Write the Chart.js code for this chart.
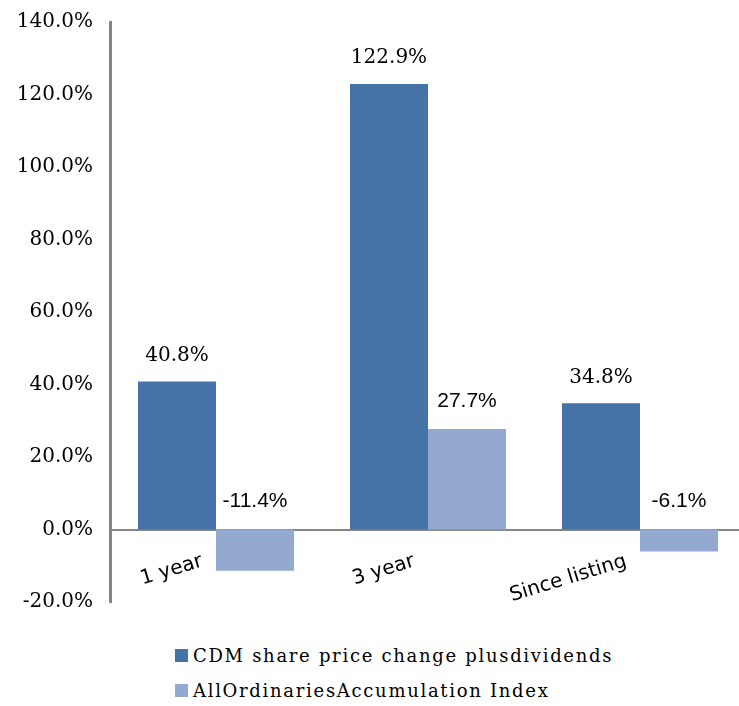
<!DOCTYPE html>
<html>
<head>
<meta charset="utf-8">
<script src="https://cdn.jsdelivr.net/npm/chart.js@4.4.0/dist/chart.umd.min.js"></script>
<style>
  html, body { margin: 0; padding: 0; background: #fff; overflow: hidden; }
  #wrap { position: relative; width: 739px; height: 706px; overflow: hidden; }
  #chart { position: absolute; left: 0; top: 0; }
  #legend { position: absolute; left: 175px; top: 638px; font-family: "DejaVu Serif", serif; font-size: 18px; color: #000; }
  .item { display: flex; align-items: center; height: 35px; letter-spacing: 1.7px; }
  .box { width: 13px; height: 13px; margin-right: 5px; }
</style>
</head>
<body>
<div id="wrap">
  <canvas id="chart" width="746" height="625"></canvas>
  <div id="legend"></div>
</div>
<script>
const categories = ["1 year", "3 year", "Since listing"];
const cdmValues = [40.8, 122.9, 34.8];
const allOrdsValues = [-11.4, 27.7, -6.1];
const seriesNames = ["CDM share price change plusdividends", "AllOrdinariesAccumulation Index"];
const seriesColors = ["#4572A7", "#93A9CF"];

// value labels above each bar (above zero line for negatives)
const valueLabels = {
    id: "valueLabels",
    afterDatasetsDraw(chart) {
        const ctx = chart.ctx;
        const yScale = chart.scales.y;
        chart.data.datasets.forEach((ds, di) => {
            const meta = chart.getDatasetMeta(di);
            ctx.save();
            ctx.font = ds.labelFont;
            ctx.fillStyle = "#000";
            ctx.textAlign = "center";
            ctx.textBaseline = "middle";
            meta.data.forEach((bar, idx) => {
                const v = ds.data[idx];
                const y = yScale.getPixelForValue(Math.max(v, 0)) - ds.labelGap;
                ctx.fillText(v.toFixed(1) + "%", bar.x, y);
            });
            ctx.restore();
        });
    }
};

const chartConfig = {
    type: "bar",
    data: {
        labels: categories,
        datasets: [
            {
                label: seriesNames[0],
                data: cdmValues,
                backgroundColor: seriesColors[0],
                labelFont: "20px 'DejaVu Serif'",
                labelGap: 26,
            },
            {
                label: seriesNames[1],
                data: allOrdsValues,
                backgroundColor: seriesColors[1],
                labelFont: "21px 'Liberation Sans'",
                labelGap: 28,
            },
        ],
    },
    options: {
        responsive: false,
        animation: false,
        layout: { padding: { top: 22, bottom: 23, right: 0, left: 0 } },
        datasets: {
            bar: { categoryPercentage: 0.736, barPercentage: 1.0 }
        },
        plugins: {
            legend: { display: false },
            tooltip: { enabled: false },
        },
        scales: {
            x: {
                position: { y: 0 },
                grid: { display: false, drawTicks: false },
                border: { display: true, color: "#868686", width: 2 },
                afterFit: (scale) => {
                    scale.paddingLeft = 0;
                    scale.paddingRight = 0;
                    scale.height = 0;
                },
                ticks: {
                    autoSkip: false,
                    minRotation: 17,
                    maxRotation: 17,
                    padding: 20,
                    labelOffset: -14,
                    color: "#000",
                    font: { family: "DejaVu Sans", size: 20 },
                },
            },
            y: {
                min: -20,
                max: 140,
                grid: { display: false, drawTicks: false },
                border: { display: true, color: "#868686", width: 3 },
                afterFit: (scale) => {
                    scale.width = 110;
                    scale.paddingTop = 0;
                    scale.paddingBottom = 0;
                },
                ticks: {
                    stepSize: 20,
                    padding: 17,
                    color: "#000",
                    font: { family: "DejaVu Serif", size: 20 },
                    callback: (v) => v.toFixed(1) + "%",
                },
            },
        },
    },
    plugins: [valueLabels],
};

const myChart = new Chart(document.getElementById("chart"), chartConfig);

// legend
const elemLegend = document.getElementById("legend");
seriesNames.forEach((name, idx) => {
    const item = document.createElement("div");
    item.className = "item";
    const box = document.createElement("span");
    box.className = "box";
    box.style.background = seriesColors[idx];
    item.appendChild(box);
    item.appendChild(document.createTextNode(name));
    elemLegend.appendChild(item);
});
</script>
</body>
</html>
